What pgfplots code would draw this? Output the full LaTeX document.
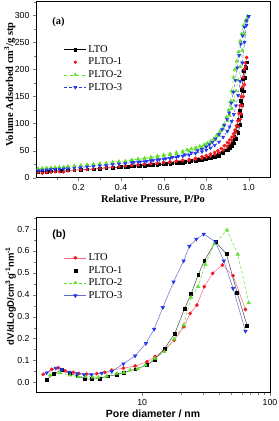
\documentclass[border=0pt]{standalone}
\usepackage{fontspec}
\setmainfont{Liberation Serif}
\setsansfont{Liberation Sans}
\usepackage{pgfplots}
\pgfplotsset{compat=1.18}
\definecolor{mred}{RGB}{240,25,30}
\definecolor{mgreen}{RGB}{95,225,40}
\definecolor{mblue}{RGB}{35,55,235}
\definecolor{lred}{RGB}{250,100,130}
\definecolor{lblue}{RGB}{95,110,205}
\definecolor{lgray}{RGB}{70,70,80}
\pgfplotsset{
  common/.style={
    scale only axis, width=234bp,
    tick align=outside, xtick pos=bottom, ytick pos=left,
    axis line style={line width=0.7pt},
    major tick length=3bp, minor tick length=1.8bp,
    /pgf/number format/assume math mode=true,
    tick label style={font=\sffamily\fontsize{8.8}{10}\selectfont},
    legend style={draw=none, fill=none, font=\fontsize{10.5}{12}\selectfont, row sep=0.2bp, inner sep=1pt},
    legend image code/.code={\draw[mark repeat=2,mark phase=2,#1] plot coordinates {(0bp,0bp) (11bp,0bp) (22bp,0bp)};},
    legend cell align=left,
  },
}
\begin{document}
\begin{tikzpicture}
\path[use as bounding box] (0,0) rectangle (279bp,-421bp);
% ---------------- (a) ----------------
\begin{axis}[common,
  at={(36bp,-1.7bp)}, anchor=north west, height=176bp,
  xmin=0, xmax=1.1, ymin=0, ymax=325,
  xtick={0.2,0.4,0.6,0.8,1.0}, minor xtick={0.1,0.3,0.5,0.7,0.9},
  ytick={0,50,...,300}, minor ytick={25,75,...,325},
  xticklabel style={/pgf/number format/.cd, fixed, fixed zerofill, precision=1},
  xlabel={\bfseries\fontsize{10.5}{12}\selectfont Relative Pressure, P/Po},
  ylabel={\bfseries\fontsize{10.5}{12}\selectfont Volume Adsorbed cm\textsuperscript{3}/g stp},
  xlabel style={yshift=2bp},
  ylabel style={at={(axis description cs:-0.112,0.53)}, anchor=center},
  legend style={at={(0.115,0.77)}, anchor=north west},
]
% LTO
\addplot[black, line width=0.4pt, mark=square*, mark size=1.3pt] coordinates {(0.01,11)(0.03,11.5)(0.05,11)(0.07,12)(0.09,12.5)(0.12,13)(0.15,13.5)(0.18,14)(0.21,14.5)(0.24,15.5)(0.27,16)(0.30,17)(0.33,18)(0.36,18.5)(0.39,19.5)(0.42,20)(0.45,21)(0.48,21.5)(0.51,22.5)(0.54,23)(0.57,24)(0.60,25)(0.63,26)(0.66,27)(0.69,28)(0.72,29.5)(0.75,31)(0.78,32.5)(0.80,34)(0.82,36)(0.84,38)(0.86,41)(0.88,45)(0.90,51)(0.91,55)(0.92,59)(0.93,64)(0.94,72)(0.95,83)(0.96,98)(0.965,115)(0.97,135)(0.975,160)(0.98,185)(0.985,203)(0.99,213)};
\addlegendentry{LTO}
\addplot[black, line width=0.4pt, mark=square*, mark size=1.3pt, forget plot] coordinates {(0.99,213)(0.983,205)(0.977,198)(0.972,182)(0.967,163)(0.962,142)(0.957,124)(0.952,108)(0.946,96)(0.94,86)(0.932,76)(0.924,68)(0.915,62)(0.905,57)(0.89,51)(0.875,47)(0.86,44)(0.845,41)(0.83,39)(0.81,37)(0.79,35)(0.76,33)(0.73,31)(0.70,29.5)(0.67,28)(0.64,27)(0.61,26)(0.58,25)(0.55,24)(0.52,23)(0.49,22)(0.46,21.5)(0.43,20.5)(0.40,20)};
% PLTO-1
\addplot[mred, line width=0.4pt, densely dashed, mark=*, mark size=1.5pt, mark options={solid}, forget plot] coordinates {(0.01,10)(0.03,8)(0.05,9.5)(0.07,10)(0.09,11)(0.11,11)(0.13,10.5)(0.15,12.5)(0.18,13.5)(0.21,14.5)(0.24,15.5)(0.27,16.5)(0.30,17.5)(0.33,18.5)(0.36,19.5)(0.39,20.5)(0.42,21.5)(0.45,22.5)(0.48,23.5)(0.51,24.5)(0.54,25.5)(0.57,26.5)(0.60,27.5)(0.63,28.5)(0.66,30)(0.69,31)(0.72,32.5)(0.75,34)(0.78,36)(0.80,38)(0.82,40)(0.84,43)(0.86,46)(0.88,51)(0.90,58)(0.91,63)(0.92,69)(0.93,76)(0.94,84)(0.95,94)(0.96,108)(0.965,118)(0.97,133)(0.975,150)(0.98,172)(0.985,205)(0.99,222)};
\addplot[mred, only marks, mark=*, mark size=1.5pt] coordinates {(0.99,222)(0.984,212)(0.979,200)(0.974,185)(0.969,167)(0.964,150)(0.959,133)(0.954,118)(0.948,105)(0.942,96)(0.935,88)(0.928,81)(0.92,75)(0.91,70)(0.9,65)(0.885,59)(0.87,54)(0.855,50)(0.84,47)(0.82,44)(0.80,41)(0.78,39)(0.75,36)(0.72,34)(0.69,32.5)(0.66,31)(0.63,29.5)(0.60,28.5)(0.57,27.5)(0.54,26.5)(0.51,25.5)(0.48,24.5)(0.45,23.5)(0.42,22.5)};
\addlegendentry{PLTO-1}
\addplot[mred, line width=0.4pt, densely dashed, forget plot] coordinates {(0.99,222)(0.984,212)(0.979,200)(0.974,185)(0.969,167)(0.964,150)(0.959,133)(0.954,118)(0.948,105)(0.942,96)(0.935,88)(0.928,81)(0.92,75)(0.91,70)(0.9,65)(0.885,59)(0.87,54)(0.855,50)(0.84,47)(0.82,44)(0.80,41)(0.78,39)(0.75,36)(0.72,34)(0.69,32.5)(0.66,31)(0.63,29.5)(0.60,28.5)(0.57,27.5)(0.54,26.5)(0.51,25.5)(0.48,24.5)(0.45,23.5)(0.42,22.5)};
% PLTO-2
\addplot[mgreen, line width=0.4pt, dashed, mark=triangle*, mark size=1.9pt, mark options={solid}] coordinates {(0.01,17)(0.03,17.5)(0.05,18)(0.07,18.5)(0.09,19)(0.11,19.5)(0.13,20)(0.15,21)(0.18,22)(0.21,23)(0.24,24)(0.27,25)(0.30,26)(0.33,27)(0.36,28.5)(0.39,30)(0.42,31)(0.45,32.5)(0.48,34)(0.51,35)(0.54,36.5)(0.57,38)(0.60,40)(0.63,42)(0.66,44)(0.69,46)(0.72,49)(0.75,52)(0.78,56)(0.80,60)(0.82,64)(0.84,70)(0.86,78)(0.88,90)(0.90,105)(0.91,115)(0.92,128)(0.93,142)(0.94,160)(0.95,180)(0.96,205)(0.97,235)(0.98,265)(0.99,290)(0.995,298)};
\addlegendentry{PLTO-2}
\addplot[mgreen, line width=0.4pt, dashed, mark=triangle*, mark size=1.9pt, mark options={solid}, forget plot] coordinates {(0.995,298)(0.985,290)(0.975,281)(0.967,266)(0.959,252)(0.951,232)(0.943,215)(0.935,200)(0.928,185)(0.92,160)(0.913,140)(0.905,125)(0.895,112)(0.882,97)(0.865,86)(0.849,78)(0.835,72)(0.821,67)(0.805,64)(0.79,61)(0.77,58)(0.752,56)(0.73,53.5)(0.71,51.5)(0.69,49)(0.66,46.5)(0.63,44)(0.60,42)(0.57,40)(0.54,38)(0.51,36)(0.48,34.5)(0.45,33)};
% PLTO-3
\addplot[mblue, line width=0.4pt, densely dashed, mark=triangle*, mark size=1.9pt, mark options={solid, rotate=180}] coordinates {(0.01,13)(0.03,14)(0.05,14.5)(0.07,15)(0.09,15.5)(0.11,16)(0.13,16.5)(0.15,17)(0.18,18)(0.21,19)(0.24,20)(0.27,21)(0.30,22)(0.33,23)(0.36,24.5)(0.39,25.5)(0.42,26.5)(0.45,28)(0.48,29)(0.51,30)(0.54,31.5)(0.57,33)(0.60,34.5)(0.63,36)(0.66,38)(0.69,40)(0.72,42)(0.75,45)(0.78,48)(0.80,51)(0.82,55)(0.84,60)(0.86,66)(0.88,75)(0.90,86)(0.91,94)(0.92,104)(0.93,117)(0.94,133)(0.95,152)(0.96,178)(0.97,212)(0.98,250)(0.99,282)(1.0,298)};
\addlegendentry{PLTO-3}
\addplot[mblue, line width=0.4pt, densely dashed, mark=triangle*, mark size=1.9pt, mark options={solid, rotate=180}, forget plot] coordinates {(1.0,298)(0.99,290)(0.98,278)(0.971,262)(0.963,247)(0.955,226)(0.946,203)(0.937,180)(0.928,158)(0.918,138)(0.908,120)(0.898,108)(0.885,97)(0.875,89)(0.86,80)(0.845,72)(0.83,66)(0.815,61)(0.80,57)(0.78,53)(0.76,50)(0.73,46)(0.70,42.5)(0.67,40)(0.64,37.5)(0.61,35.5)(0.58,33.5)(0.55,32)(0.52,30.5)(0.49,29.5)(0.46,28.5)};
\node[anchor=west, font=\bfseries\fontsize{10.5}{12}\selectfont] at (rel axis cs:0.055,0.886) {(a)};
\end{axis}
% ---------------- (b) ----------------
\begin{axis}[common,
  at={(36bp,-217bp)}, anchor=north west, height=175.7bp,
  xmode=log, xmin=1.476, xmax=100, ymin=-0.047, ymax=0.755,
  xtick={10,100}, xticklabels={10,100},
  ytick={0,0.1,...,0.7}, minor ytick={0.05,0.15,...,0.75},
  yticklabel style={/pgf/number format/.cd, fixed, fixed zerofill, precision=1},
  xlabel={\sffamily\bfseries\fontsize{10.5}{12}\selectfont Pore diameter / nm},
  ylabel={\sffamily\bfseries\fontsize{9.5}{11}\selectfont dV/dLogD/cm\textsuperscript{3}g\textsuperscript{-1}nm\textsuperscript{-1}},
  xlabel style={yshift=2bp},
  ylabel style={at={(axis description cs:-0.108,0.55)}, anchor=center},
  legend style={at={(0.115,0.81)}, anchor=north west},
]
% LTO
\addplot[lred, line width=0.5pt, mark=*, mark size=1.6pt, mark options={mred}] coordinates {(1.68,0.037)(1.96,0.060)(2.21,0.067)(2.49,0.053)(2.89,0.046)(3.2,0.041)(3.68,0.038)(4.41,0.040)(5.1,0.046)(5.78,0.056)(7.13,0.065)(8.81,0.075)(10.9,0.094)(12.6,0.118)(14.8,0.145)(17.8,0.193)(21.2,0.254)(23.7,0.315)(26.8,0.353)(30.6,0.437)(35.6,0.498)(42.4,0.536)(51.4,0.487)(64.3,0.333)};
\addlegendentry{LTO}
% PLTO-1
\addplot[lgray, line width=0.5pt, mark=square*, mark size=1.4pt, mark options={black}, forget plot] coordinates {(1.79,0.012)(2.04,0.041)(2.34,0.056)(2.72,0.040)(3.1,0.030)(3.55,0.016)(4.03,0.015)(4.68,0.018)(5.35,0.028)(6.33,0.035)(7.13,0.045)(8.81,0.060)(10.9,0.079)(12.6,0.105)(15.0,0.155)(18.0,0.224)(21.5,0.338)(24.1,0.403)(27.4,0.49)(30.6,0.554)(37.4,0.642)(45.6,0.586)(55.3,0.409)(66.2,0.260)};
\addplot[black, only marks, mark=square*, mark size=1.4pt] coordinates {(1.79,0.012)(2.04,0.041)(2.34,0.056)(2.72,0.040)(3.1,0.030)(3.55,0.016)(4.03,0.015)(4.68,0.018)(5.35,0.028)(6.33,0.035)(7.13,0.045)(8.81,0.060)(10.9,0.079)(12.6,0.105)(15.0,0.155)(18.0,0.224)(21.5,0.338)(24.1,0.403)(27.4,0.49)(30.6,0.554)(37.4,0.642)(45.6,0.586)(55.3,0.409)(66.2,0.260)};
\addlegendentry{PLTO-1}
% PLTO-2
\addplot[mgreen, line width=0.5pt, densely dashed, mark=triangle*, mark size=2pt, mark options={solid}] coordinates {(1.9,0.033)(2.27,0.044)(2.72,0.033)(3.16,0.026)(3.6,0.026)(4.1,0.024)(4.54,0.023)(5.28,0.029)(6.33,0.041)(7.2,0.045)(8.05,0.056)(9.2,0.062)(10.6,0.079)(12.6,0.11)(14.9,0.14)(17.8,0.198)(21.1,0.262)(24.1,0.388)(27.4,0.437)(31.2,0.539)(36.7,0.632)(46.1,0.695)(56.0,0.584)(68.2,0.363)};
\addlegendentry{PLTO-2}
% PLTO-3
\addplot[lblue, line width=0.5pt, mark=triangle*, mark size=2pt, mark options={mblue, rotate=180}] coordinates {(1.79,0.044)(2.11,0.065)(2.35,0.058)(2.7,0.047)(3.1,0.040)(3.51,0.036)(4.0,0.036)(4.82,0.042)(5.78,0.05)(7.13,0.085)(8.8,0.121)(10.7,0.178)(12.4,0.243)(14.5,0.342)(17.6,0.459)(21.1,0.555)(23.4,0.622)(26.5,0.654)(30.3,0.677)(37.4,0.642)(43.5,0.555)(51.4,0.429)(64.3,0.234)};
\addlegendentry{PLTO-3}
\node[anchor=west, font=\sffamily\bfseries\fontsize{10.5}{12}\selectfont] at (rel axis cs:0.055,0.898) {(b)};
\end{axis}
\end{tikzpicture}
\end{document}
